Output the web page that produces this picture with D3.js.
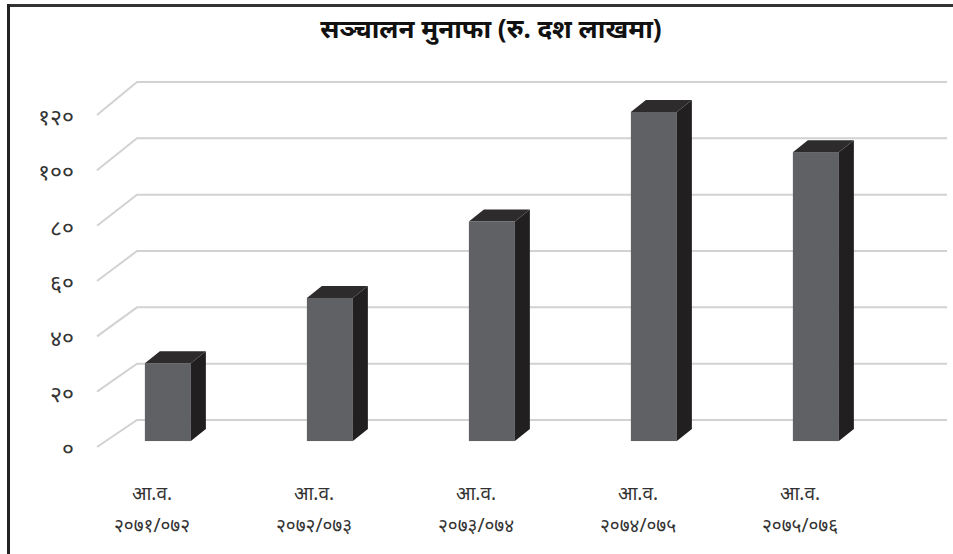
<!DOCTYPE html>
<html>
<head>
  <meta charset='utf-8'>
  <title>सञ्चालन मुनाफा</title>
  <script src='https://cdn.jsdelivr.net/npm/d3@7/dist/d3.min.js'></script>
  <style type='text/css'>
    body { margin: 0; background: #fff; }
    svg text { font-family: 'Noto Sans', 'DejaVu Sans', sans-serif; }
  </style>
</head>
<body>
  <div id='plot-container'></div>
  <script>
    // chart data
    const titleText = 'सञ्चालन मुनाफा (रु. दश लाखमा)';
    const categories = ['२०७१/०७२', '२०७२/०७३', '२०७३/०७४', '२०७४/०७५', '२०७५/०७६'];
    const categoryPrefix = 'आ.व.';
    const profit = [28, 51.5, 79, 118.5, 104];
    const tickValues = [0, 20, 40, 60, 80, 100, 120];
    const tickLabels = ['०', '२०', '४०', '६०', '८०', '१००', '१२०'];

    const width = 953, height = 554;
    const svg = d3.select('#plot-container').append('svg')
        .attr('width', width)
        .attr('height', height);

    // frame: only top and left edges are visible
    svg.append('line').attr('x1', 7).attr('x2', width).attr('y1', 5.5).attr('y2', 5.5)
        .attr('stroke', '#333').attr('stroke-width', 3);
    svg.append('line').attr('x1', 8.5).attr('x2', 8.5).attr('y1', 4).attr('y2', height)
        .attr('stroke', '#222').attr('stroke-width', 3);

    // front and back wall of the 3d plot box
    const depth = { dx: 40 };
    const yFront = d3.scaleLinear().domain([0, 120]).range([447, 115]);
    const yBack = d3.scaleLinear().domain([0, 120]).range([420, 82]);
    // bars sit a bit behind the front plane
    const t = 0.22;
    const yBar = d3.scaleLinear().domain([0, 120])
        .range([447 - 27 * t, 115 - 33 * t]);
    const x = d3.scaleBand().domain(categories).range([106, 916]);
    const backLeft = 137, backRight = 947;

    // gridlines
    const grid = svg.append('g');
    grid.selectAll('polyline')
        .data(tickValues)
        .enter().append('polyline')
        .attr('points', d => `${backLeft - depth.dx},${yFront(d)} ${backLeft},${yBack(d)} ${backRight},${yBack(d)}`)
        .attr('fill', 'none')
        .attr('stroke', '#d2d2d2')
        .attr('stroke-width', 2);

    // y labels
    svg.append('g').selectAll('text')
        .data(tickValues)
        .enter().append('text')
        .attr('x', 74)
        .attr('y', d => yFront(d) + 4)
        .attr('text-anchor', 'end')
        .attr('dominant-baseline', 'middle')
        .attr('font-size', 23)
        .attr('fill', '#333')
        .text((d, i) => tickLabels[i]);

    // bars
    const barW = 46, side = { dx: 15, dy: -12 };
    const bars = svg.append('g').selectAll('g')
        .data(categories.map((c, i) => ({ c, v: profit[i] })))
        .enter().append('g');
    const bx = d => x(d.c) + x.step() * 0.24;
    bars.append('rect')
        .attr('x', bx)
        .attr('y', d => yBar(d.v))
        .attr('width', barW)
        .attr('height', d => yBar(0) - yBar(d.v))
        .attr('fill', '#606165');
    bars.append('polygon')
        .attr('points', d => {
            const x0 = bx(d) + barW, y0 = yBar(d.v), y1 = yBar(0);
            return `${x0},${y0} ${x0 + side.dx},${y0 + side.dy} ${x0 + side.dx},${y1 + side.dy} ${x0},${y1}`;
        })
        .attr('fill', '#221f20');
    bars.append('polygon')
        .attr('points', d => {
            const x0 = bx(d), y0 = yBar(d.v);
            return `${x0},${y0} ${x0 + side.dx},${y0 + side.dy} ${x0 + barW + side.dx},${y0 + side.dy} ${x0 + barW},${y0}`;
        })
        .attr('fill', '#2d2b2c');

    // category labels
    const labels = svg.append('g').selectAll('g')
        .data(categories)
        .enter().append('g')
        .attr('transform', d => `translate(${x(d) + x.bandwidth() / 2 - 35}, 0)`);
    labels.append('text')
        .attr('y', 500)
        .attr('text-anchor', 'middle')
        .attr('font-size', 19)
        .attr('fill', '#333')
        .text(categoryPrefix);
    labels.append('text')
        .attr('y', 532)
        .attr('text-anchor', 'middle')
        .attr('font-size', 19)
        .attr('fill', '#333')
        .text(d => d);

    // title
    svg.append('text')
        .attr('x', 491)
        .attr('y', 38)
        .attr('text-anchor', 'middle')
        .attr('font-size', 26)
        .attr('font-weight', 'bold')
        .attr('fill', '#111')
        .text(titleText);
  </script>
</body>
</html>
